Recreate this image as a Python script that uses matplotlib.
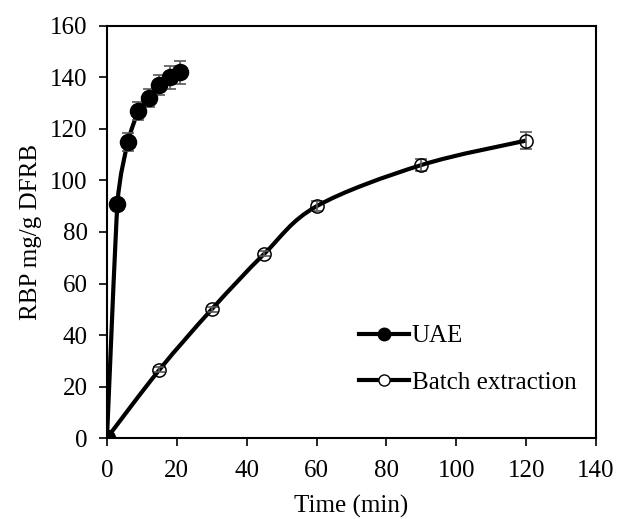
import numpy as np
import matplotlib.pyplot as plt
from matplotlib.path import Path
from matplotlib.patches import PathPatch
from matplotlib.lines import Line2D

plt.rcParams['font.family'] = ['Liberation Serif', 'DejaVu Serif']

# data
uae_time = [0, 3, 6, 9, 12, 15, 18, 21]
uae_rbp = [0, 91, 115, 127, 132, 137, 140, 142]
uae_err = [0, 2, 3.5, 3.5, 3.5, 4, 4.5, 4.5]

batch_time = [0, 15, 30, 45, 60, 90, 120]
batch_rbp = [0, 26.5, 50, 71.5, 90, 106, 115.5]
batch_err = [0, 1, 1, 1, 2, 2.5, 3.3]

x_ticks = [0, 20, 40, 60, 80, 100, 120, 140]
y_ticks = [0, 20, 40, 60, 80, 100, 120, 140, 160]


def smooth_path(x, y, k):
    # excel-like smoothed line drawn as cubic bezier segments
    pts = np.column_stack([x, y]).astype(float)
    verts = [pts[0]]
    codes = [Path.MOVETO]
    n = len(pts)
    for i in range(n - 1):
        p0 = pts[max(i - 1, 0)]
        p1 = pts[i]
        p2 = pts[i + 1]
        p3 = pts[min(i + 2, n - 1)]
        c1 = p1 + (p2 - p0) * k
        c2 = p2 - (p3 - p1) * k
        verts += [c1, c2, p2]
        codes += [Path.CURVE4] * 3
    return Path(verts, codes)


fig = plt.figure(figsize=(6.17, 5.19), dpi=100)
ax = fig.add_axes([0.1734, 0.156, 0.7926, 0.794])

series = [(uae_time, uae_rbp, uae_err, 'black', 11.5, 0.1),
          (batch_time, batch_rbp, batch_err, 'none', 9.5, 1 / 6)]
for t, v, e, face, size, k in series:
    ax.add_patch(PathPatch(smooth_path(t, v, k), facecolor='none',
                           edgecolor='black', lw=3, zorder=2))
    ax.errorbar(t, v, yerr=e, fmt='none', ecolor='#595959', elinewidth=1.2,
                capsize=4.5, capthick=1.2, zorder=3)
    ax.plot(t, v, 'o', ms=size, mfc=face, mec='black', mew=1.1, zorder=4)

ax.set_xlim(0, 140)
ax.set_ylim(0, 160)
ax.set_xticks(x_ticks)
ax.set_yticks(y_ticks)
ax.tick_params(direction='out', length=6, width=1.2, labelsize=18, pad=8)
ax.tick_params(axis='x', pad=10)
for s in ax.spines.values():
    s.set_linewidth(1.5)
ax.set_xlabel('Time (min)', fontsize=18, labelpad=9)
ax.set_ylabel('RBP mg/g DFRB', fontsize=18, labelpad=6)

handles = [Line2D([], [], color='black', lw=3, marker='o', ms=9, mfc='black', mec='black'),
           Line2D([], [], color='black', lw=3, marker='o', ms=8, mfc='white', mec='black')]
ax.legend(handles, ['UAE', 'Batch extraction'], frameon=False, fontsize=18,
          loc='lower left', bbox_to_anchor=(0.47, 0.053), handlelength=2.0,
          handletextpad=0.1, labelspacing=0.95)

fig.savefig('out.png', dpi=100)
